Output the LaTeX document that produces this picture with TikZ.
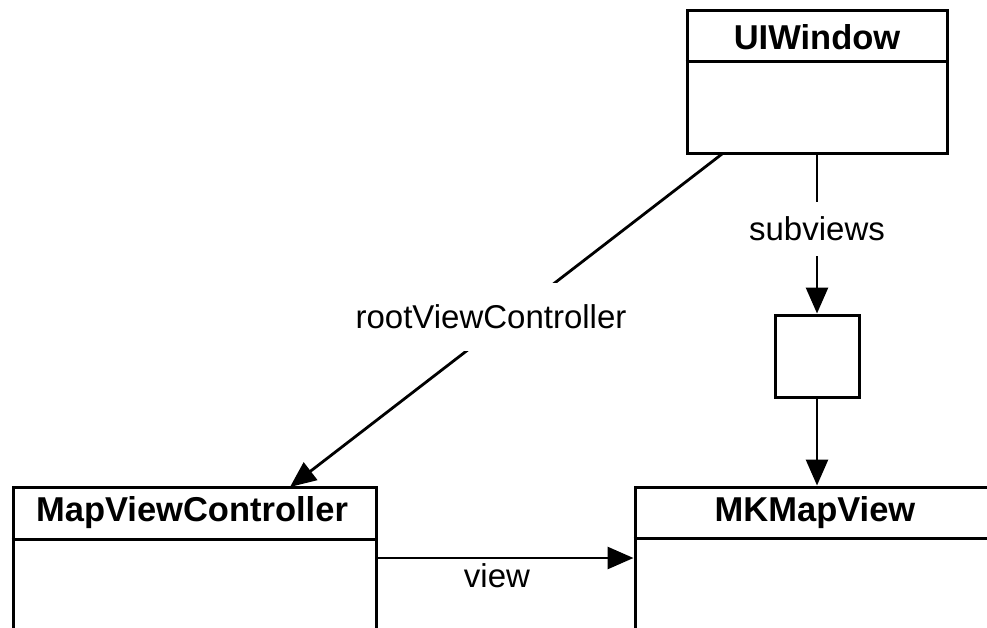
\documentclass[tikz,border=0pt]{standalone}
\usepackage{fontspec}
\setmainfont{Liberation Sans}
\usetikzlibrary{arrows.meta}
\tikzset{
  classbox/.style={draw, line width=3pt, rectangle, inner sep=0pt},
  title/.style={font=\fontsize{34.5}{38}\selectfont\bfseries, inner sep=0pt},
  lbl/.style={font=\fontsize{33}{36}\selectfont, fill=white, inner xsep=4pt},
  conn/.style={line width=2.8pt, -{Triangle[length=26pt,width=22pt]}},
  divider/.style={line width=3pt}
}
\begin{document}
\begin{tikzpicture}[x=1pt,y=-1pt]
\useasboundingbox (0,0) rectangle (987,628);
\clip (0,0) rectangle (987,628);
\fill[white] (0,0) rectangle (987,628);
% boxes
\node[classbox, minimum width=260pt, minimum height=143pt] (win) at (817,82.5) {};
\node[classbox, minimum width=363pt, minimum height=220pt] (mvc) at (194.5,597) {};
\node[classbox, minimum width=364pt, minimum height=220pt] (mk) at (817,597) {};
\node[classbox, minimum width=84pt, minimum height=82pt] (sub) at (817,356) {};
% dividers
\draw[divider] (win.west |- 0,62) -- (win.east |- 0,62);
\draw[divider] (mvc.west |- 0,539) -- (mvc.east |- 0,539);
\draw[divider] (mk.west |- 0,538) -- (mk.east |- 0,538);
% titles
\node[title] (wint) at (817,37) {UIWindow};
\node[title] (mvct) at (192,513) {MapViewController};
\node[title] (mkt) at (815,513) {MKMapView};
% connectors
\coordinate (rvcstart) at (722,154);
\coordinate (rvcend) at (290,487);
\draw[conn] (rvcstart) -- (rvcend);
\node[lbl, inner ysep=22pt] (rvc) at (491,317) {rootViewController};
\draw[conn] (win.south) -- (sub.north);
\node[lbl, inner ysep=15pt] (subl) at (817,229) {subviews};
\draw[conn] (sub.south) -- (mk.north);
\draw[conn] (mvc.east |- 0,558) -- (mk.west |- 0,558);
\node[font=\fontsize{33}{36}\selectfont, inner sep=0pt] (viewl) at (497,576) {view};
\end{tikzpicture}
\end{document}
